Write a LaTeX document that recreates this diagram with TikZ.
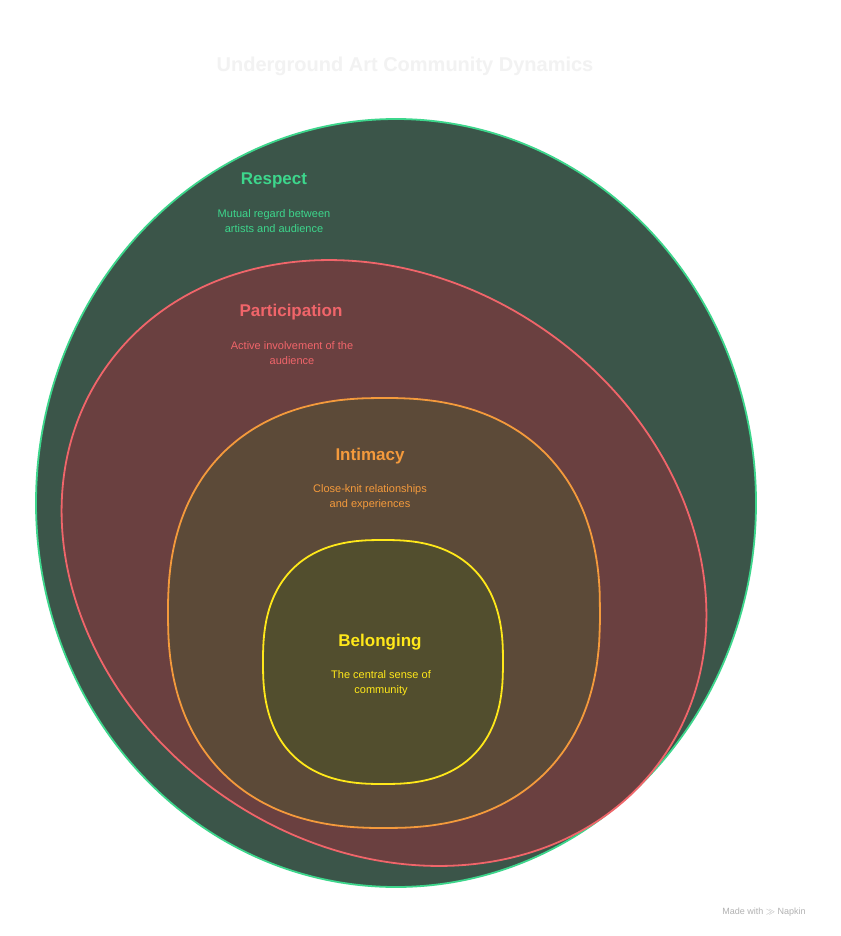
\documentclass[tikz,border=0pt]{standalone}
\usepackage{fontspec}
\setmainfont{Liberation Sans}
\definecolor{gS}{HTML}{3DD68C}\definecolor{gF}{HTML}{3B5549}
\definecolor{rS}{HTML}{F0656A}\definecolor{rF}{HTML}{6A4040}
\definecolor{oS}{HTML}{F49A3C}\definecolor{oF}{HTML}{5C4A38}
\definecolor{yS}{HTML}{FFE81A}\definecolor{yF}{HTML}{524E2E}
\begin{document}
\begin{tikzpicture}[x=1pt,y=-1pt,
  ttl/.style={font=\bfseries\fontsize{17}{20}\selectfont},
  dsc/.style={font=\fontsize{11}{15}\selectfont,align=center},
  ring/.style={line width=1.8pt}]
\useasboundingbox[fill=white] (0,0) rectangle (840,936);
\node[font=\bfseries\fontsize{20}{24}\selectfont,text=black!5] (title) at (405,66) {Underground Art Community Dynamics};
\draw[ring,draw=gS,fill=gF] (396,503) ellipse [x radius=360,y radius=384];
\draw[ring,draw=rS,fill=rF,rotate around={-35:(384,563)}] (384,563) ellipse [x radius=340,y radius=283];
\draw[ring,draw=oS,fill=oF] plot[domain=1:361,samples=73,smooth cycle] ({384+216*(cos(\x)<0?-1:1)*pow(abs(cos(\x)),0.85)},{613+215*(sin(\x)<0?-1:1)*pow(abs(sin(\x)),0.85)});
\draw[ring,draw=yS,fill=yF] plot[domain=1:361,samples=73,smooth cycle] ({383+120*(cos(\x)<0?-1:1)*pow(abs(cos(\x)),0.8)},{662+122*(sin(\x)<0?-1:1)*pow(abs(sin(\x)),0.8)});
\node[ttl,text=gS] (t1) at (274,180) {Respect};
\node[dsc,text=gS] (d1) at (274,221) {Mutual regard between\\artists and audience};
\node[ttl,text=rS] (t2) at (291,312) {Participation};
\node[dsc,text=rS] (d2) at (292,353) {Active involvement of the\\audience};
\node[ttl,text=oS] (t3) at (370,456) {Intimacy};
\node[dsc,text=oS] (d3) at (370,497) {Close-knit relationships\\and experiences};
\node[ttl,text=yS] (t4) at (380,642) {Belonging};
\node[dsc,text=yS] (d4) at (381,683) {The central sense of\\community};
\node[font=\fontsize{9}{11}\selectfont,text=black!30] (mw) at (764,912) {Made with $\gg$ Napkin};
\end{tikzpicture}
\end{document}
